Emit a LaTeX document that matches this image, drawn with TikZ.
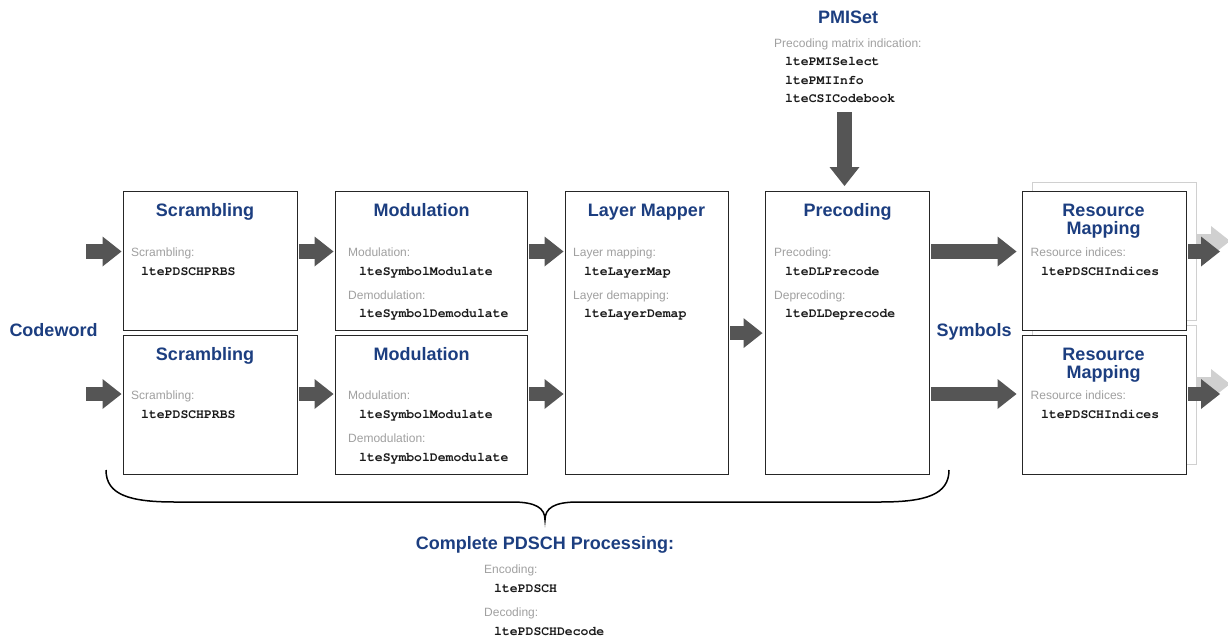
\documentclass[tikz,border=0pt]{standalone}
\usepackage{fontspec}
\setmainfont{Liberation Sans}
\newfontfamily\monofnt{TeX Gyre Cursor}
\usetikzlibrary{arrows.meta}

\definecolor{ttlblue}{RGB}{28,62,128}
\definecolor{lblgrey}{RGB}{160,160,160}
\definecolor{arrgrey}{RGB}{85,85,85}
\definecolor{ghostgrey}{RGB}{208,208,208}

\tikzset{
  box/.style={draw=black!85, line width=1.2pt, fill=white, inner sep=0pt, anchor=north west},
  ghostbox/.style={box, draw=ghostgrey},
  ttl/.style={font=\fontsize{18}{18}\selectfont\bfseries, text=ttlblue, inner sep=0pt, anchor=mid},
  lbl/.style={font=\fontsize{12}{14}\selectfont, text=lblgrey, inner sep=0pt, anchor=mid west},
  fn/.style={font=\fontsize{13.1}{15}\selectfont\monofnt\bfseries, text=black!90, inner sep=0pt, anchor=mid west},
  bigarrow/.style={line width=14.5pt, draw=arrgrey, -{Triangle[width=30pt,length=19pt,line width=0pt]}},
  ghostarrow/.style={bigarrow, draw=ghostgrey}
}

\begin{document}
\begin{tikzpicture}[x=1pt, y=-1pt]
\useasboundingbox (0,0) rectangle (1228,637);
\clip (0,0) rectangle (1228,637);

% copies behind the resource mapping
\node[ghostbox, minimum width=164pt, minimum height=138pt] (g1) at (1032,182) {};
\node[ghostbox, minimum width=164pt, minimum height=139pt] (g2) at (1032,325) {};
\coordinate (gout1) at (1230,241);
\coordinate (gout2) at (1230,384);
\draw[ghostarrow] (g1.east |- gout1) -- (gout1);
\draw[ghostarrow] (g2.east |- gout2) -- (gout2);

% blocks
\node[box, minimum width=174pt, minimum height=139pt] (s1) at (123,191) {};
\node[box, minimum width=174pt, minimum height=139pt] (s2) at (123,335) {};
\node[box, minimum width=192pt, minimum height=139pt] (m1) at (335,191) {};
\node[box, minimum width=192pt, minimum height=139pt] (m2) at (335,335) {};
\node[box, minimum width=163pt, minimum height=283pt] (lm) at (565,191) {};
\node[box, minimum width=164pt, minimum height=283pt] (pc) at (765,191) {};
\node[box, minimum width=164pt, minimum height=139pt] (rm1) at (1022,191) {};
\node[box, minimum width=164pt, minimum height=139pt] (rm2) at (1022,335) {};

% scrambling
\node[ttl] (s1t) at (205,214) {Scrambling};
\node[lbl] (s1l) at (131,253.5) {Scrambling:};
\node[fn] (s1f) at (141,272.5) {ltePDSCHPRBS};
\node[ttl] (s2t) at (205,357.5) {Scrambling};
\node[lbl] (s2l) at (131,397) {Scrambling:};
\node[fn] (s2f) at (141,416) {ltePDSCHPRBS};

% modulation
\node[ttl] (m1t) at (421.5,214) {Modulation};
\node[lbl] (m1l) at (348,253.5) {Modulation:};
\node[fn] (m1f) at (359,272.5) {lteSymbolModulate};
\node[lbl] (m1d) at (348,296.5) {Demodulation:};
\node[fn] (m1g) at (359,315) {lteSymbolDemodulate};
\node[ttl] (m2t) at (421.5,357.5) {Modulation};
\node[lbl] (m2l) at (348,397) {Modulation:};
\node[fn] (m2f) at (359,416) {lteSymbolModulate};
\node[lbl] (m2d) at (348,440) {Demodulation:};
\node[fn] (m2g) at (359,458.5) {lteSymbolDemodulate};

% layer mapper
\node[ttl] (lmt) at (646.5,214) {Layer Mapper};
\node[lbl] (lml) at (573,253.5) {Layer mapping:};
\node[fn] (lmf) at (584,272.5) {lteLayerMap};
\node[lbl] (lmd) at (573,296.5) {Layer demapping:};
\node[fn] (lmg) at (584,315) {lteLayerDemap};

% precoding
\node[ttl] (pct) at (847.5,214) {Precoding};
\node[lbl] (pcl) at (774,253.5) {Precoding:};
\node[fn] (pcf) at (785,272.5) {lteDLPrecode};
\node[lbl] (pcd) at (774,296.5) {Deprecoding:};
\node[fn] (pcg) at (785,315) {lteDLDeprecode};

% resource mapping
\node[ttl, align=center] (rm1t) at (1103.5,232) {Resource\\Mapping};
\node[lbl] (rm1l) at (1030.5,253.5) {Resource indices:};
\node[fn] (rm1f) at (1041,272.5) {ltePDSCHIndices};
\node[ttl, align=center] (rm2t) at (1103.5,375.5) {Resource\\Mapping};
\node[lbl] (rm2l) at (1030.5,397) {Resource indices:};
\node[fn] (rm2f) at (1041,416) {ltePDSCHIndices};

% PMI set
\node[ttl] (pmit) at (848,21) {PMISet};
\node[lbl] (pmil) at (774,44.5) {Precoding matrix indication:};
\node[fn] (pmi1) at (785,63) {ltePMISelect};
\node[fn] (pmi2) at (785,81.5) {ltePMIInfo};
\node[fn] (pmi3) at (785,100) {lteCSICodebook};

% side labels
\node[ttl] (cw) at (53.5,334) {Codeword};
\node[ttl] (sym) at (974,334) {Symbols};

% arrows
\coordinate (in1) at (86,251.5);
\coordinate (in2) at (86,394);
\coordinate (out1) at (1220,251.5);
\coordinate (out2) at (1220,394);
\coordinate (pmiarr) at (844.5,112);
\draw[bigarrow, shorten >=1.5pt] (in1) -- (s1.west |- in1);
\draw[bigarrow, shorten >=1.5pt] (in2) -- (s2.west |- in2);
\draw[bigarrow, shorten <=1pt, shorten >=1.5pt] (s1.east |- in1) -- (m1.west |- in1);
\draw[bigarrow, shorten <=1pt, shorten >=1.5pt] (s2.east |- in2) -- (m2.west |- in2);
\draw[bigarrow, shorten <=1pt, shorten >=1.5pt] (m1.east |- in1) -- (lm.west |- in1);
\draw[bigarrow, shorten <=1pt, shorten >=1.5pt] (m2.east |- in2) -- (lm.west |- in2);
\draw[bigarrow, shorten <=1pt, shorten >=2.5pt] (lm.east) -- (pc.west);
\draw[bigarrow, shorten <=1pt, shorten >=5.5pt] (pc.east |- in1) -- (rm1.west |- in1);
\draw[bigarrow, shorten <=1pt, shorten >=5.5pt] (pc.east |- in2) -- (rm2.west |- in2);
\draw[bigarrow, shorten <=1pt] (rm1.east |- out1) -- (out1);
\draw[bigarrow, shorten <=1pt] (rm2.east |- out2) -- (out2);
\draw[bigarrow, shorten >=5pt] (pmiarr) -- (pmiarr |- pc.north);

% brace under the chain
\draw[line width=1.5pt] (106,470) .. controls (106,495) and (130,502) .. (175,502) -- (512,502)
  .. controls (536,502) and (545,508) .. (545,520)
  .. controls (545,508) and (554,502) .. (578,502) -- (880,502)
  .. controls (925,502) and (949,495) .. (949,470);

% complete processing
\node[ttl] (cpt) at (545,547) {Complete PDSCH Processing:};
\node[lbl] (cpl) at (484,571) {Encoding:};
\node[fn] (cpf) at (494,590) {ltePDSCH};
\node[lbl] (cpd) at (484,613.5) {Decoding:};
\node[fn] (cpg) at (494,632.5) {ltePDSCHDecode};
\end{tikzpicture}
\end{document}
